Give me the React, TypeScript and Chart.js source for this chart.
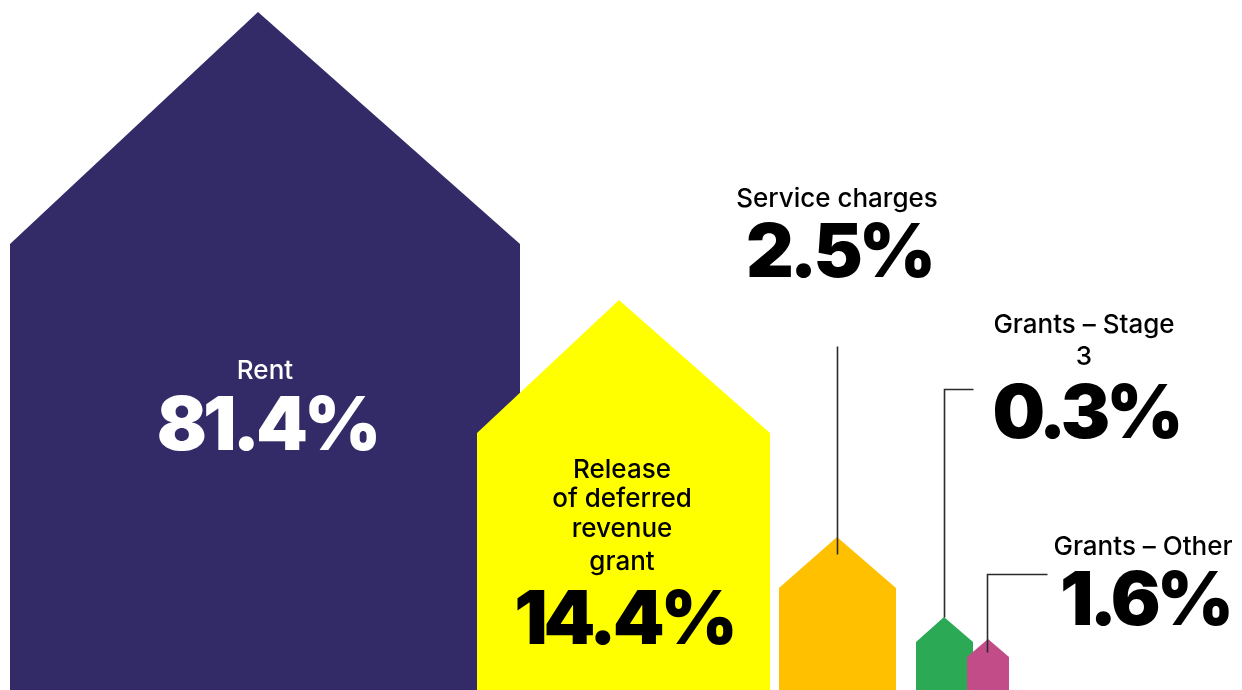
import React, { useEffect, useRef } from "react";
import { Chart, registerables } from "chart.js";

Chart.register(...registerables);

// ---- data ----
const categories = ["Rent", "Release of deferred revenue grant", "Service charges", "Grants – Stage 3", "Grants – Other"];
const shares = [81.4, 14.4, 2.5, 0.3, 1.6];
const labelLines = [["Rent"], ["Release", "of deferred", "revenue", "grant"], ["Service charges"], ["Grants – Stage", "3"], ["Grants – Other"]];

// ---- styles ----
const colors = ["#322B67", "#FFFF00", "#FFC000", "#2BA954", "#C24C88"];
const textColors = ["#FFFFFF", "#000000", "#000000", "#000000", "#000000"];

// ---- layout (chart units; y measured upward from the base) ----
const W = 1242;
const H = 690;
const houseLeft = [10, 477, 779, 916, 967];
const houseRight = [520, 770, 896, 973, 1009];
const houseShoulder = [446, 257, 102, 48, 33];
const housePeakX = [258, 619, 837, 944, 988];
const housePeakY = [678, 390, 153, 73, 51];
// text anchors: center x, label line baselines, value baseline
const textCenterX = [265, 622, 837, 1084, 1143];
const labelBaselines = [[311], [212, 183, 153, 120], [483], [357, 325], [135]];
const valueBaseline = [240, 46, 413, 252, 65];
// leader lines (polyline points, chart units)
const leaders = [
  null,
  null,
  [[837, 136], [837, 344]],
  [[944, 73], [944, 301], [973, 301]],
  [[987, 38], [987, 116], [1047, 116]],
];

const LABEL_FONT = '500 26px "Inter", "Noto Sans", sans-serif';
const VALUE_FONT = '900 74px "Inter", "Noto Sans", sans-serif';
const VALUE_SPACING = -4;

const overlayPlugin = {
  id: "houseOverlay",
  afterDatasetsDraw(chart: any) {
    const { ctx, scales } = chart;
    const xs = scales.x;
    const ys = scales.y;
    ctx.save();
    leaders.forEach((pts) => {
      if (!pts) return;
      ctx.beginPath();
      pts.forEach((p, i) => {
        const px = Math.round(xs.getPixelForValue(p[0])) + 0.5;
        const py = Math.round(ys.getPixelForValue(p[1])) + 0.5;
        if (i === 0) ctx.moveTo(px, py);
        else ctx.lineTo(px, py);
      });
      ctx.strokeStyle = "#2b2b2b";
      ctx.lineWidth = 1.6;
      ctx.stroke();
    });
    ctx.textAlign = "center";
    ctx.textBaseline = "alphabetic";
    categories.forEach((_, i) => {
      const cx = xs.getPixelForValue(textCenterX[i]);
      ctx.fillStyle = textColors[i];
      ctx.font = LABEL_FONT;
      (ctx as any).letterSpacing = "0px";
      labelLines[i].forEach((line, j) => {
        ctx.fillText(line, cx, ys.getPixelForValue(labelBaselines[i][j]));
      });
      ctx.font = VALUE_FONT;
      (ctx as any).letterSpacing = VALUE_SPACING + "px";
      ctx.fillText(shares[i].toFixed(1) + "%", cx - VALUE_SPACING / 2, ys.getPixelForValue(valueBaseline[i]));
      (ctx as any).letterSpacing = "0px";
    });
    ctx.restore();
  },
};

export default function App() {
  const ref = useRef<HTMLCanvasElement | null>(null);
  useEffect(() => {
    document.body.style.margin = "0";
    const canvas = ref.current;
    if (!canvas) return;
    const datasets = categories.map((name, i) => ({
      label: name,
      data: [
        { x: houseLeft[i], y: 0 },
        { x: houseLeft[i], y: houseShoulder[i] },
        { x: housePeakX[i], y: housePeakY[i] },
        { x: houseRight[i], y: houseShoulder[i] },
        { x: houseRight[i], y: 0 },
      ],
      showLine: true,
      fill: "origin",
      backgroundColor: colors[i],
      borderColor: colors[i],
      borderWidth: 0,
      pointRadius: 0,
      tension: 0,
      order: categories.length - i,
    }));
    const chart = new Chart(canvas, {
      type: "scatter",
      data: { datasets },
      options: {
        animation: false,
        responsive: false,
        devicePixelRatio: 1,
        layout: { padding: 0 },
        plugins: { legend: { display: false }, tooltip: { enabled: false } },
        scales: {
          x: { type: "linear", min: 0, max: W, display: false },
          y: { type: "linear", min: 0, max: H, display: false },
        },
      },
      plugins: [overlayPlugin],
    });
    return () => chart.destroy();
  }, []);
  return (
    <div style={{ width: W, height: H, background: "#fff" }}>
      <canvas ref={ref} width={W} height={H} style={{ display: "block" }} />
    </div>
  );
}
